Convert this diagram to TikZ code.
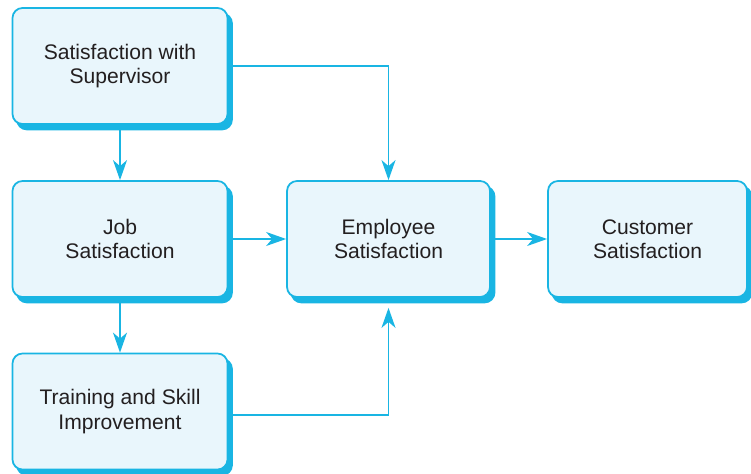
\documentclass[tikz,border=0pt]{standalone}
\usepackage{fontspec}
\setmainfont{Liberation Sans}
\usetikzlibrary{arrows.meta,shadows}
\definecolor{boxline}{HTML}{19B5E3}
\definecolor{boxfill}{HTML}{E9F6FC}
\definecolor{txt}{HTML}{231F20}

\begin{document}
\begin{tikzpicture}[
  font=\fontsize{12}{13.8}\selectfont,
  arr/.style={-{Stealth[length=0.40cm, width=0.28cm, inset=0.12cm]}, line width=1pt, draw=boxline},
  box/.style={
    draw=boxline,
    fill=boxfill,
    line width=1pt,
    rounded corners=0.2cm,
    align=center,
    text=txt,
    minimum height=2.32cm,
    copy shadow={shadow xshift=0.09cm, shadow yshift=-0.11cm, fill=boxline, draw=boxline}
  }
]

\useasboundingbox (0,0) rectangle (15.02,-9.48);

% -------------------------------------------------
% Column x-positions
% -------------------------------------------------
\def\xL{2.40}
\def\xM{7.77}
\def\xR{12.95}

% -------------------------------------------------
% LEFT COLUMN
% -------------------------------------------------
\node[box, minimum width=4.30cm] (sup) at (\xL,-1.32) {Satisfaction with\\Supervisor};
\node[box, minimum width=4.30cm] (job) at (\xL,-4.78) {Job\\Satisfaction};
\node[box, minimum width=4.30cm] (train) at (\xL,-8.23) {Training and Skill\\Improvement};

% -------------------------------------------------
% MIDDLE + RIGHT
% -------------------------------------------------
\node[box, minimum width=4.06cm] (emp) at (\xM,-4.78) {Employee\\Satisfaction};
\node[box, minimum width=3.98cm] (cust) at (\xR,-4.78) {Customer\\Satisfaction};

% -------------------------------------------------
% ARROWS
% -------------------------------------------------
\draw[arr] (sup) -- (job);
\draw[arr] (job) -- (train);
\draw[arr] (sup.east) -| (emp.north);
\draw[arr] (job) -- (emp);
\draw[arr, shorten >=0.2cm] ([yshift=-0.07cm]train.east) -| (emp.south);
\draw[arr] (emp) -- (cust);

\end{tikzpicture}
\end{document}
